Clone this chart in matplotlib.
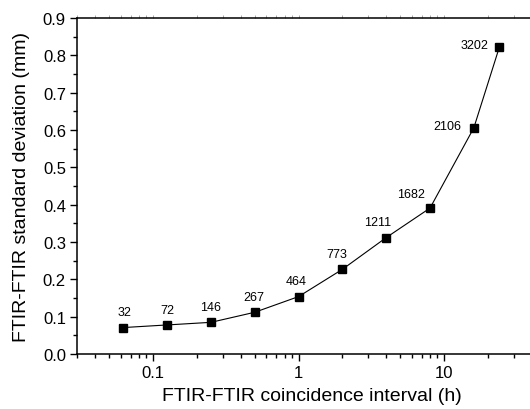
import matplotlib.pyplot as plt
from matplotlib.ticker import MultipleLocator, LogLocator, NullFormatter, FuncFormatter

plt.rcParams['font.family'] = ['Liberation Sans', 'DejaVu Sans']

# coincidence interval (h), std dev (mm), number of pairs
interval = [0.0625, 0.125, 0.25, 0.5, 1, 2, 4, 8, 16, 24]
std_dev = [0.071, 0.078, 0.085, 0.112, 0.154, 0.227, 0.312, 0.391, 0.606, 0.823]
n_pairs = ['32', '72', '146', '267', '464', '773', '1211', '1682', '2106', '3202']

# label offsets in points (dx, dy)
offsets = [(1, 11), (0, 11), (0, 11), (-1, 11), (-2, 11), (-4, 11), (-6, 11),
           (-14, 10), (-19, 1), (-18, 1)]

fig = plt.figure(figsize=(5.3, 4.1), dpi=100)
ax = fig.add_axes([0.1453, 0.134, 0.8846, 0.8195])

ax.plot(interval, std_dev, color='black', lw=0.8, marker='s', ms=5.5,
        mfc='black', mec='black')

for xv, yv, lab, (dx, dy) in zip(interval, std_dev, n_pairs, offsets):
    ax.annotate(lab, (xv, yv), xytext=(dx, dy), textcoords='offset points',
                ha='center', va='center', fontsize=9)

ax.set_xscale('log')
ax.set_xlim(0.03, 50)
ax.set_ylim(0, 0.9)

ax.xaxis.set_major_locator(LogLocator(base=10, numticks=10))
ax.xaxis.set_minor_locator(LogLocator(base=10, subs=range(2, 10), numticks=20))
ax.xaxis.set_major_formatter(FuncFormatter(lambda v, p: f'{v:g}'))
ax.xaxis.set_minor_formatter(NullFormatter())
ax.yaxis.set_major_locator(MultipleLocator(0.1))
ax.yaxis.set_minor_locator(MultipleLocator(0.05))
ax.yaxis.set_major_formatter(FuncFormatter(lambda v, p: f'{v:.1f}'))

ax.tick_params(which='both', direction='out', labelsize=12, width=1)
ax.tick_params(which='major', length=5, pad=3)
ax.tick_params(which='minor', length=3)

for side in ['left', 'bottom', 'top']:
    ax.spines[side].set_linewidth(1.1)
ax.spines['right'].set_visible(False)

top = ax.secondary_xaxis('top')
top.xaxis.set_major_locator(LogLocator(base=10, numticks=10))
top.xaxis.set_minor_locator(LogLocator(base=10, subs=range(2, 10), numticks=20))
top.tick_params(which='both', direction='out', colors='0.6', labeltop=False,
                length=2, width=0.6)
top.spines['top'].set_visible(False)

ax.set_xlabel('FTIR-FTIR coincidence interval (h)', fontsize=14, labelpad=5)
ax.set_ylabel('FTIR-FTIR standard deviation (mm)', fontsize=14, labelpad=9)

fig.savefig('out.png', dpi=100)
